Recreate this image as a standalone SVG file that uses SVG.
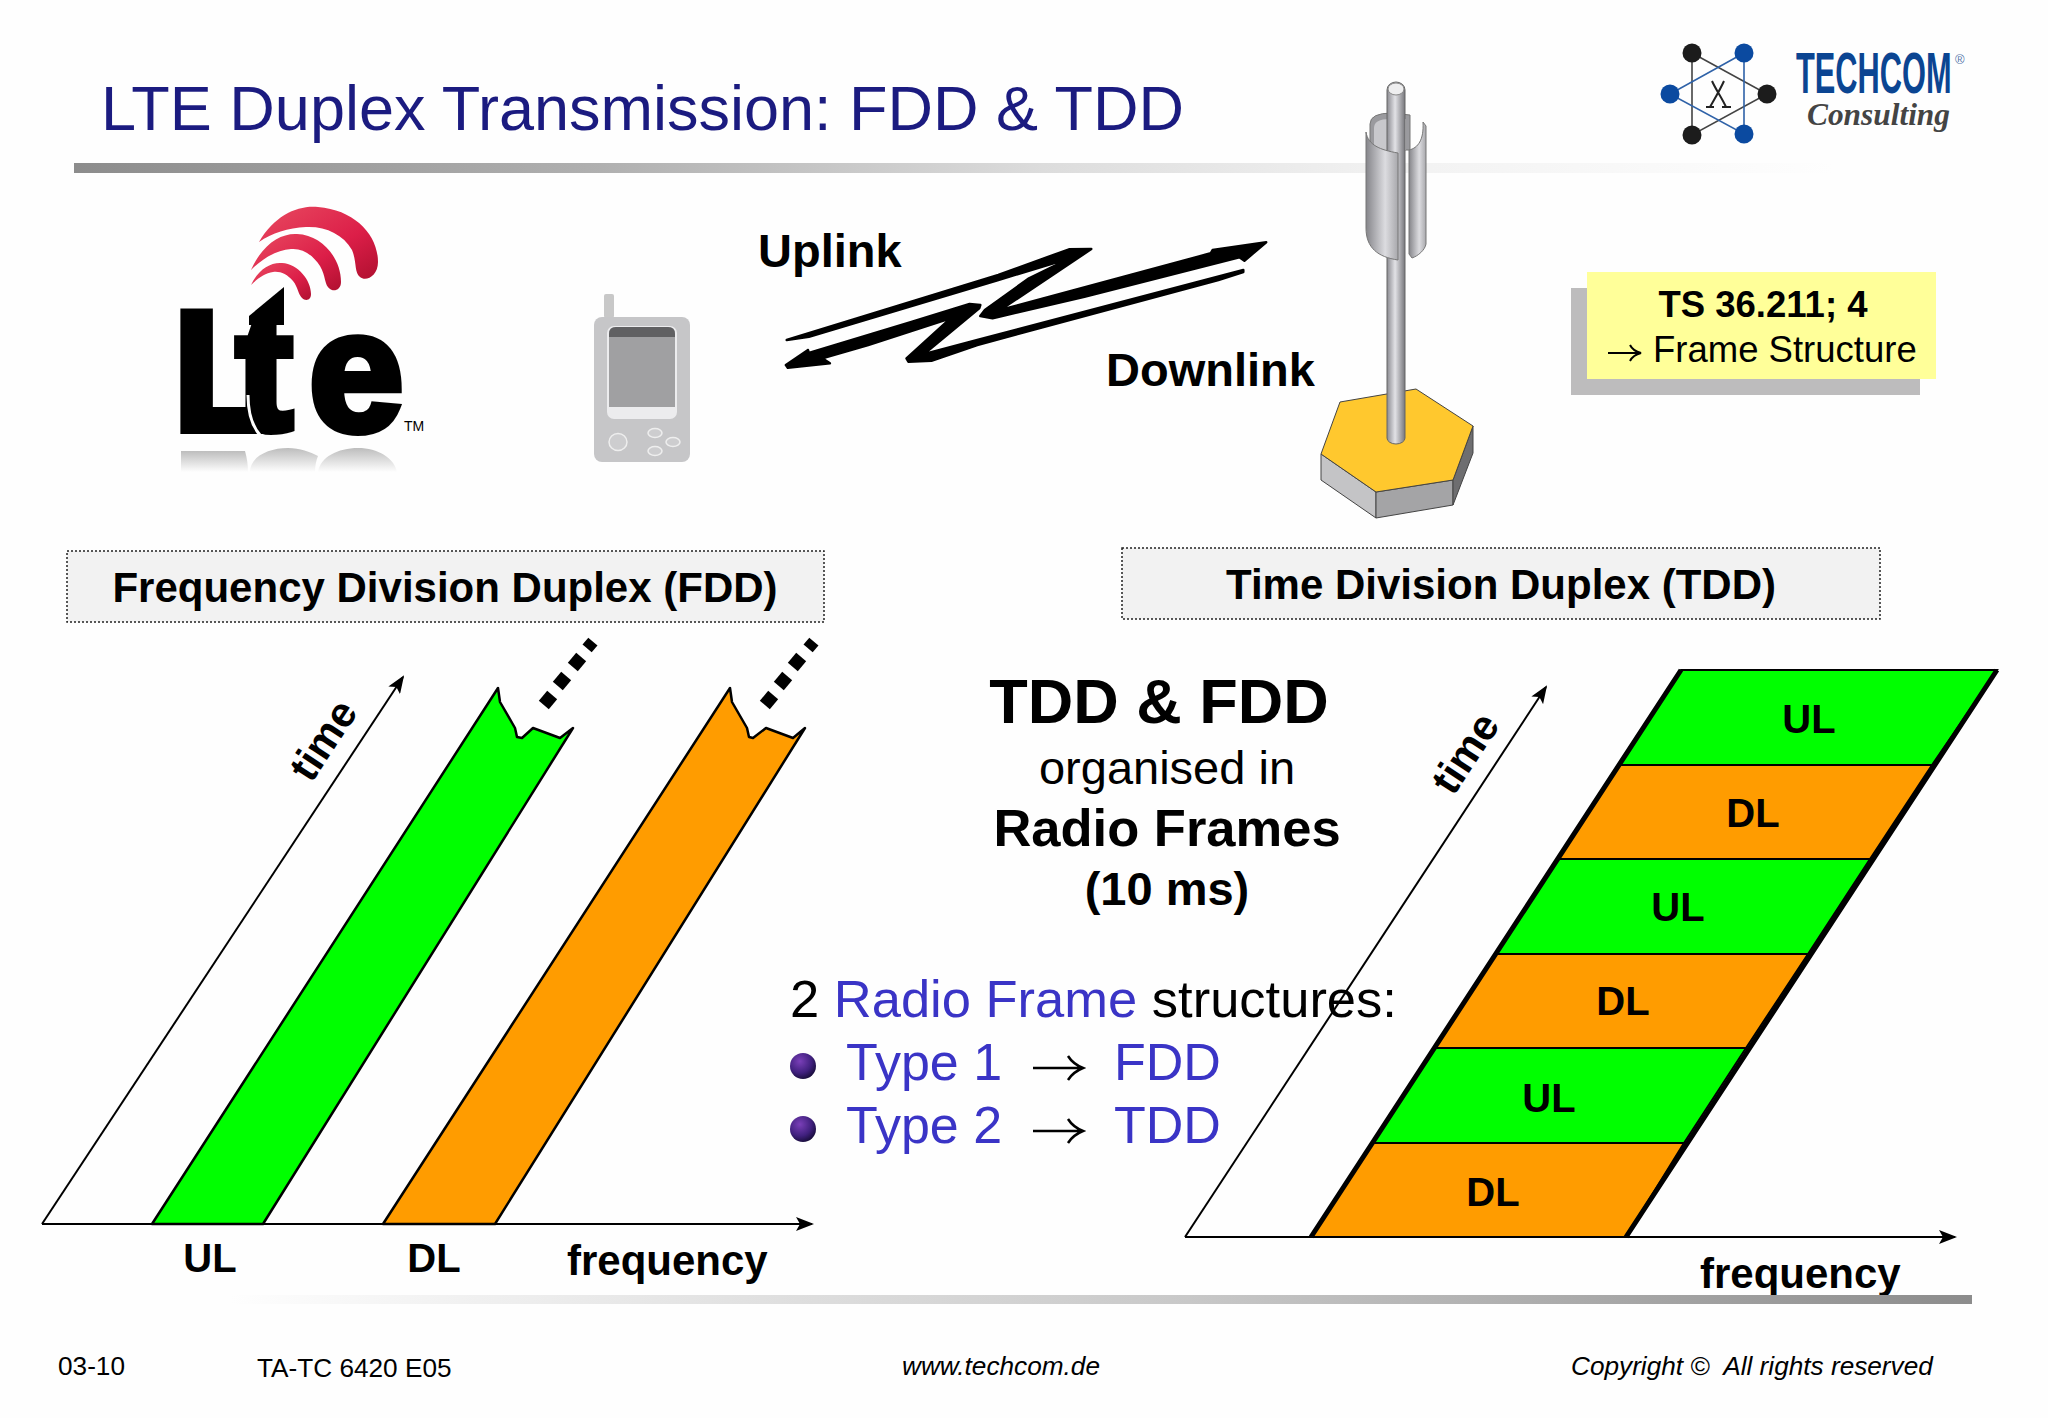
<svg xmlns="http://www.w3.org/2000/svg" width="2048" height="1418" viewBox="0 0 2048 1418">
<style>
text{font-family:"Liberation Sans",Arial,sans-serif;fill:#000}
.b{font-weight:700}
.m{text-anchor:middle}
.blue{fill:#3a34c6}
.foot{font-size:26.2px}
.it{font-style:italic}
.axis{fill:none;stroke:#000;stroke-width:2}
.band{stroke:#000;stroke-width:2.5;stroke-linejoin:round}
.g{fill:#00ff00}
.o{fill:#ff9c00}
.hd{fill:#f2f2f2;stroke:#222;stroke-width:1.5;stroke-dasharray:2 2}
.lab{font-size:40px;font-weight:700}
.big{font-size:52.5px}
.ty{font-size:52px}
.arr{fill:none;stroke:#000;stroke-width:2.5}
</style>
<defs>
<marker id="ah" markerUnits="userSpaceOnUse" markerWidth="18" markerHeight="14" refX="16" refY="7" orient="auto"><path d="M0,0 L18,7 L0,14 L4,7 Z" fill="#000"/></marker>
<linearGradient id="rule1" x1="0" x2="1" y1="0" y2="0"><stop offset="0" stop-color="#8c8c8c"/><stop offset=".3" stop-color="#b0b0b0"/><stop offset=".55" stop-color="#dcdcdc"/><stop offset=".75" stop-color="#f2f2f2"/><stop offset="1" stop-color="#fefefe"/></linearGradient>
<linearGradient id="rule2" x1="0" x2="1" y1="0" y2="0"><stop offset="0" stop-color="#fefefe"/><stop offset=".55" stop-color="#c8c8c8"/><stop offset="1" stop-color="#8c8c8c"/></linearGradient>
<linearGradient id="pole" x1="0" x2="1" y1="0" y2="0"><stop offset="0" stop-color="#8a8a90"/><stop offset=".45" stop-color="#e2e2e6"/><stop offset="1" stop-color="#77777c"/></linearGradient>
<linearGradient id="panel" x1="0" x2="1" y1="0" y2="0"><stop offset="0" stop-color="#85858a"/><stop offset=".6" stop-color="#dcdce0"/><stop offset="1" stop-color="#a8a8ac"/></linearGradient>
<linearGradient id="red" x1="0" x2="1" y1="0" y2="1"><stop offset="0" stop-color="#e84a60"/><stop offset=".6" stop-color="#dc1e48"/><stop offset="1" stop-color="#b01030"/></linearGradient>
<linearGradient id="refl" x1="0" x2="0" y1="0" y2="1"><stop offset="0" stop-color="#bdbdbd"/><stop offset="1" stop-color="#fefefe"/></linearGradient>
<radialGradient id="bul" cx=".38" cy=".32" r=".75"><stop offset="0" stop-color="#7a3fb8"/><stop offset=".6" stop-color="#40207e"/><stop offset="1" stop-color="#120a30"/></radialGradient>
</defs>
<rect width="2048" height="1418" fill="#fefefe"/>

<g id="title">
<text x="101" y="130" font-size="63" style="fill:#1b1b80">LTE Duplex Transmission: FDD &amp; TDD</text>
<rect x="74" y="163" width="1760" height="10" fill="url(#rule1)"/>
</g>

<g id="techcom-logo">
<path d="M1692,53 L1767,94 L1692,135 Z" fill="none" stroke="#444" stroke-width="1.6"/>
<path d="M1744,53 L1670,94 L1744,134 Z" fill="none" stroke="#2f62a8" stroke-width="1.6"/>
<path d="M1712,81 C1716,90 1722,98 1726,107 M1724,81 C1720,90 1715,98 1710,107 M1706,107 H1714 M1722,107 H1731" fill="none" stroke="#222" stroke-width="2"/>
<circle cx="1692" cy="53" r="9.5" fill="#1c1c1c"/><circle cx="1767" cy="94" r="9.5" fill="#1c1c1c"/><circle cx="1692" cy="135" r="9.5" fill="#1c1c1c"/>
<circle cx="1744" cy="53" r="9.5" fill="#0b4aa0"/><circle cx="1670" cy="94" r="9.5" fill="#0b4aa0"/><circle cx="1744" cy="134" r="9.5" fill="#0b4aa0"/>
<text transform="translate(1796,93) scale(.54,1)" font-size="57" font-weight="700" style="fill:#0b4592">TECHCOM</text>
<text x="1955" y="64" font-size="13" style="fill:#5577aa">®</text>
<text x="1807" y="125" font-size="31" font-weight="700" class="it" textLength="143" lengthAdjust="spacingAndGlyphs" style="font-family:'Liberation Serif',serif;fill:#444">Consulting</text>
</g>

<g id="lte-logo">
<path fill="url(#red)" d="M259,242 C275,215 298,205 318,207 C355,210 378,235 378,262 C378,276 366,282 360,277 C354,272 357,262 352,250 C343,234 325,226 306,227 C288,228 272,233 259,242 Z"/>
<path fill="url(#red)" d="M251,270 C262,245 280,233 297,234 C322,235 341,258 341,282 C341,290 334,292 330,289 C324,285 326,276 320,266 C312,254 302,248 291,249 C277,250 263,258 251,270 Z"/>
<path fill="url(#red)" d="M251,285 C258,270 270,262 282,263 C298,264 311,280 311,294 C311,301 305,301 302,298 C298,294 298,287 293,281 C287,274 280,271 273,272 C265,273 257,279 251,285 Z"/>
<text y="430" font-size="170" font-weight="700" stroke="#000" stroke-width="8" x="173 236 309">Lte</text>
<path d="M249,316 L284,287 V325 H249 Z" fill="#000"/>
<path d="M248,395 C248,412 252,426 260,435 M312,405 C308,418 308,426 302,435" fill="none" stroke="#fefefe" stroke-width="3"/>
<text x="404" y="431" font-size="14">TM</text>
<path fill="url(#refl)" d="M181,451 H245 C247,458 248,465 248,472 H181 Z"/>
<path fill="url(#refl)" d="M250,472 C250,457 268,448 288,448 C300,448 310,452 318,456 C316,461 315,466 315,472 Z"/>
<path fill="url(#refl)" d="M318,472 C320,457 338,448 358,448 C378,448 394,458 397,472 Z"/>
</g>

<g id="phone">
<rect x="604" y="294" width="10" height="24" rx="2" fill="#c8c8c8"/>
<rect x="594" y="317" width="96" height="145" rx="8" fill="#c6c6c8"/>
<rect x="607" y="326" width="70" height="93" rx="7" fill="#ececee"/>
<path d="M609,407 V334 Q609,327 616,327 H668 Q675,327 675,334 V407 Z" fill="#a0a0a2"/>
<path d="M609,337 V334 Q609,327 616,327 H668 Q675,327 675,334 V337 Z" fill="#606062"/>
<ellipse cx="618" cy="442" rx="9" ry="8.5" fill="#cdcdcf" stroke="#eee" stroke-width="1.5"/>
<ellipse cx="655" cy="433" rx="7" ry="4.5" fill="#cdcdcf" stroke="#eee" stroke-width="1.5"/>
<ellipse cx="673" cy="442" rx="7" ry="4.5" fill="#cdcdcf" stroke="#eee" stroke-width="1.5"/>
<ellipse cx="655" cy="451" rx="7" ry="4.5" fill="#cdcdcf" stroke="#eee" stroke-width="1.5"/>
</g>

<g id="radio-link">
<path d="M786.7,340 L998.3,275 L1069,249.3 L1091.3,249 L1000.2,310 L1210.7,253.3 L1212.6,250 L1266.2,242.3 L1244.4,260.7 L1239.4,257.3 L1084.4,296.7 L992.6,318.3 L980.3,316 L984.9,310 L1029,278.3 L1069.9,258.3 L998.3,280 L808.9,336.7 Z" fill="#000" stroke="#000" stroke-width="2.5" stroke-linejoin="round"/>
<path d="M1243.3,270 L977.3,340 L923.7,354.3 L979.2,308.3 L980.3,305 L969.6,304 L912.2,321.7 L808.9,353 L808,350 L785.9,365 L787.8,367.7 L829.9,363.3 L822.3,358.3 L868.2,345 L950.5,318.3 L906.5,358.3 L908.4,361.7 L931.4,360.7 L977.3,345 L1218.4,280 L1243.3,272 Z" fill="#000" stroke="#000" stroke-width="2.5" stroke-linejoin="round"/>
<text x="758" y="267" font-size="47" class="b">Uplink</text>
<text x="1106" y="386" font-size="47" class="b">Downlink</text>
</g>

<g id="antenna">
<path d="M1321,454 L1376,492 L1376,518 L1321,480 Z" fill="#c4c4c6" stroke="#444" stroke-width="1"/>
<path d="M1376,492 L1453,480 L1453,505 L1376,518 Z" fill="#a4a4a6" stroke="#444" stroke-width="1"/>
<path d="M1453,480 L1473,426 L1473,453 L1453,505 Z" fill="#6e6e70" stroke="#444" stroke-width="1"/>
<path d="M1340,402 L1416,389 L1473,426 L1453,480 L1376,492 L1321,454 Z" fill="#ffc82e" stroke="#444" stroke-width="1"/>
<path d="M1370,150 V124 Q1370,113 1392,113 L1410,115 V150 Z" fill="#9a9a9e" stroke="#777"/>
<path d="M1374,150 V128 Q1374,119 1390,119 H1406 V150 Z" fill="#c8c8cc"/>
<path d="M1387,90 A9,8 0 0 1 1405,90 V438 A9,6 0 0 1 1387,438 Z" fill="url(#pole)" stroke="#666" stroke-width="1"/>
<ellipse cx="1396" cy="89" rx="8" ry="6" fill="#eeeeef" stroke="#888"/>
<path d="M1366,132 C1368,145 1380,150 1398,153 V260 C1378,257 1366,248 1366,228 Z" fill="url(#panel)" stroke="#777" stroke-width="1"/>
<path d="M1409,150 C1418,148 1424,140 1423,122 L1426,126 V244 C1425,250 1418,256 1412,258 L1409,254 Z" fill="url(#panel)" stroke="#777" stroke-width="1"/>
</g>

<g id="ts-note">
<rect x="1571" y="288" width="349" height="107" fill="#bdbcbd"/>
<rect x="1587" y="272" width="349" height="107" fill="#ffff99"/>
<text x="1763" y="317" font-size="36.500" class="b m">TS 36.211; 4</text>
<path d="M1608,353 H1640 M1630,345 Q1633,351 1641,353 Q1633,355 1630,361" fill="none" stroke="#000" stroke-width="2"/>
<text x="1653" y="362" font-size="36.500">Frame Structure</text>
</g>

<g id="fdd-header">
<rect x="67" y="551" width="757" height="71" class="hd"/>
<text x="445" y="602" font-size="42" class="b m">Frequency Division Duplex (FDD)</text>
</g>
<g id="tdd-header">
<rect x="1122" y="548" width="758" height="71" class="hd"/>
<text x="1501" y="599" font-size="42" class="b m">Time Division Duplex (TDD)</text>
</g>

<g id="connectors">
<path d="M42,1224 H812" class="axis" marker-end="url(#ah)"/>
<path d="M42,1224 L403,677" class="axis" marker-end="url(#ah)"/>
<path d="M1185,1237 H1955" class="axis" marker-end="url(#ah)"/>
<path d="M1185,1237 L1546,687" class="axis" marker-end="url(#ah)"/>
</g>

<g id="fdd-ul-band">
<path class="band g" d="M152,1224 L498,688 L500,702 L515,728 L517,737 L522,738 L533,728 L560,738 L573,728 L263,1224 Z"/>
<g fill="#000"><rect x="-6.500" y="-6.500" width="13" height="13" transform="translate(548,700) rotate(40)"/><rect x="-6.500" y="-6.500" width="13" height="13" transform="translate(562,681) rotate(40)"/><rect x="-6.500" y="-6.500" width="13" height="13" transform="translate(577,662) rotate(40)"/><rect x="-6" y="-4.500" width="12" height="9" transform="translate(590,645) rotate(40)"/></g>
<text x="210" y="1272" class="lab m">UL</text>
</g>
<g id="fdd-dl-band">
<path class="band o" d="M383,1224 L730,688 L732,702 L747,728 L749,737 L753,738 L766,728 L793,738 L805,728 L495,1224 Z"/>
<g fill="#000"><rect x="-6.500" y="-6.500" width="13" height="13" transform="translate(769,700) rotate(40)"/><rect x="-6.500" y="-6.500" width="13" height="13" transform="translate(783,681) rotate(40)"/><rect x="-6.500" y="-6.500" width="13" height="13" transform="translate(797,662) rotate(40)"/><rect x="-6" y="-4.500" width="12" height="9" transform="translate(811,645) rotate(40)"/></g>
<text x="434" y="1272" class="lab m">DL</text>
</g>
<text x="567" y="1275" font-size="42" class="b">frequency</text>
<text transform="translate(335,748) rotate(-56.6)" font-size="42" class="b m">time</text>

<g id="tdd-frames">
<g id="frame-ul-1"><path class="g" d="M1681,670 H1997 L1932,765 H1618 Z" stroke="#000" stroke-width="2"/><text x="1809" y="733" class="lab m">UL</text></g>
<g id="frame-dl-1"><path class="o" d="M1618,765 H1932 L1870,859 H1557 Z" stroke="#000" stroke-width="2"/><text x="1753" y="827" class="lab m">DL</text></g>
<g id="frame-ul-2"><path class="g" d="M1557,859 H1870 L1808,954 H1495 Z" stroke="#000" stroke-width="2"/><text x="1678" y="921" class="lab m">UL</text></g>
<g id="frame-dl-2"><path class="o" d="M1495,954 H1808 L1746,1048 H1434 Z" stroke="#000" stroke-width="2"/><text x="1623" y="1015" class="lab m">DL</text></g>
<g id="frame-ul-3"><path class="g" d="M1434,1048 H1746 L1684,1143 H1373 Z" stroke="#000" stroke-width="2"/><text x="1549" y="1112" class="lab m">UL</text></g>
<g id="frame-dl-3"><path class="o" d="M1373,1143 H1684 L1626,1237 H1311 Z" stroke="#000" stroke-width="2"/><text x="1493" y="1206" class="lab m">DL</text></g>
<path d="M1681,670 L1311,1237 M1997,670 L1626,1237" fill="none" stroke="#000" stroke-width="5"/>
</g>
<text x="1700" y="1288" font-size="42" class="b">frequency</text>
<text transform="translate(1477,761) rotate(-56.6)" font-size="42" class="b m">time</text>

<g id="center-text">
<text x="1159" y="723" font-size="63" class="b m">TDD &amp; FDD</text>
<text x="1167" y="784" font-size="47" class="m">organised in</text>
<text x="1167" y="846" font-size="52.500" class="b m">Radio Frames</text>
<text x="1167" y="905" font-size="47" class="b m">(10 ms)</text>
<text x="790" y="1017" class="big">2 <tspan class="blue">Radio Frame</tspan> structures:</text>
<circle cx="803" cy="1066" r="13" fill="url(#bul)"/>
<text x="846" y="1080" class="ty blue">Type 1</text>
<path d="M1033,1068 H1082 M1068,1056 Q1073,1064 1083,1068 Q1073,1072 1068,1080" class="arr"/>
<text x="1114" y="1080" class="ty blue">FDD</text>
<circle cx="803" cy="1129" r="13" fill="url(#bul)"/>
<text x="846" y="1143" class="ty blue">Type 2</text>
<path d="M1033,1131 H1082 M1068,1119 Q1073,1127 1083,1131 Q1073,1135 1068,1143" class="arr"/>
<text x="1114" y="1143" class="ty blue">TDD</text>
</g>

<g id="footer">
<rect x="230" y="1295" width="1742" height="9" fill="url(#rule2)"/>
<text x="58" y="1375" class="foot">03-10</text>
<text x="257" y="1377" class="foot">TA-TC 6420 E05</text>
<text x="902" y="1375" class="foot it">www.techcom.de</text>
<text x="1571" y="1375" class="foot it" xml:space="preserve">Copyright ©  All rights reserved</text>
</g>
</svg>
